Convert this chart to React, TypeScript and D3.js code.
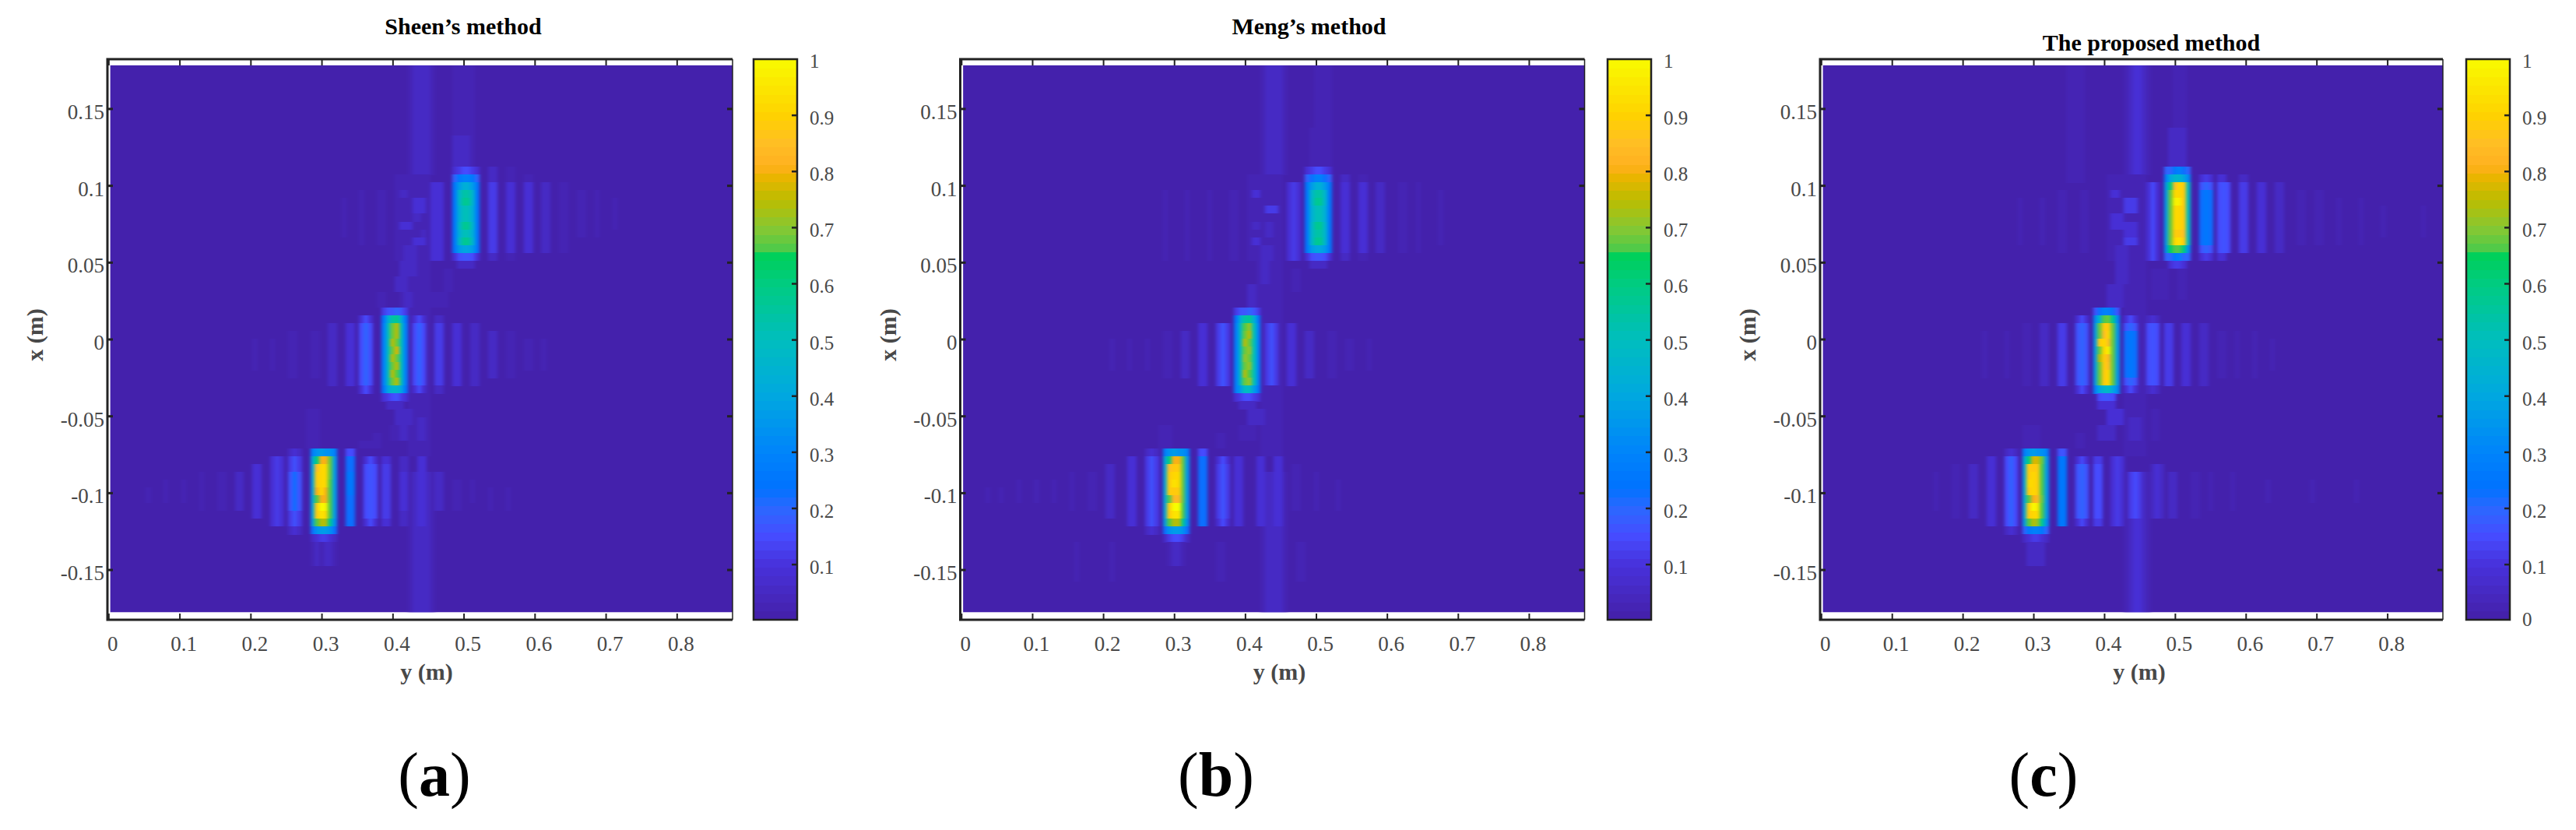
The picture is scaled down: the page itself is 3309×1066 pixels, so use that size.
import React from 'react';
import * as d3 from 'd3';

const yTicks = [0, 0.1, 0.2, 0.3, 0.4, 0.5, 0.6, 0.7, 0.8];
const xTicks = [0.15, 0.1, 0.05, 0, -0.05, -0.1, -0.15];
const barTicks = [0.1, 0.2, 0.3, 0.4, 0.5, 0.6, 0.7, 0.8, 0.9];

// colour bar, it has 64 flat bands and two jumps
const colorStops = [0, 0.1, 0.15, 0.2, 0.235, 0.3, 0.4, 0.5, 0.6, 0.655, 0.66, 0.7, 0.75, 0.795, 0.81, 0.85, 0.9, 0.95, 1];
const colorValues = ['#4420a8', '#4832dc', '#464cff', '#2c68ff', '#0072ff', '#0084fa', '#00a8e0', '#00bebe', '#00cc80', '#00d056', '#4cca4a', '#88c832', '#bcbc00', '#f0b400', '#ffb020', '#ffbe24', '#ffd200', '#fce600', '#f8fa00'];

// [first row, row count, first column, levels], level is base 36 -> 0..1
type Patch = [number, number, number, string];

const sheenPatches: Patch[] = [
  // vertical smear near y = 0.435 and the faint one over the first target
  [0, 14, 67, '122221'], [14, 36, 67, '11111'], [52, 18, 67, '122221'], [0, 13, 77, '11111'], [9, 4, 77, '2222'],
  // target at y = 0.5
  [13, 1, 77, '345543'], [14, 1, 77, '79aa97'], [15, 1, 77, '9dffd9'], [16, 1, 77, '9gjjg9'], [17, 1, 77, '9gkkg9'], [18, 1, 77, '9fiif9'],
  [19, 1, 77, '9fiif9'], [20, 1, 77, '9gkkg9'], [21, 1, 77, '9fiif9'], [22, 1, 77, '9gkkg9'], [23, 1, 77, '9deed9'], [24, 1, 77, '356653'], [25, 1, 78, '2222'],
  [13, 12, 85, '22'], [15, 9, 85, '44'], [13, 12, 89, '11'], [15, 9, 89, '33'], [14, 10, 93, '11'], [15, 9, 93, '33'], [15, 9, 97, '22'], [15, 9, 101, '11'], [16, 6, 105, '11'], [16, 6, 109, '1'], [17, 4, 113, '1'],
  [15, 10, 72, '333'], [14, 11, 64, '1111111'], [17, 2, 68, '333'], [16, 1, 65, '22'], [20, 1, 65, '333'], [22, 1, 68, '333'], [19, 1, 68, '22'], [23, 2, 66, '222'], [21, 1, 70, '2'],
  [16, 7, 60, '11'], [16, 7, 56, '1'], [17, 5, 52, '1'],
  [25, 2, 65, '2222'], [27, 2, 64, '2221'], [29, 2, 65, '1221'], [26, 3, 75, '11'], [29, 2, 60, '11'], [29, 2, 72, '1111'],
  // target at y = 0.4
  [31, 1, 61, '466764'], [32, 1, 61, '9fjkf9'], [33, 1, 61, 'ahoqia'], [34, 1, 61, 'ahoqia'], [35, 1, 61, 'ahqoia'], [36, 1, 61, 'ahoria'], [37, 1, 61, 'ahqoia'],
  [38, 1, 61, 'ahoqia'], [39, 1, 61, 'ahqnia'], [40, 1, 61, 'ahoqia'], [41, 1, 61, '9egge9'], [42, 1, 61, '345643'], [43, 1, 62, '2222'],
  [32, 10, 68, '353'], [33, 8, 68, '575'], [32, 10, 73, '22'], [33, 8, 73, '44'], [33, 8, 77, '33'], [33, 8, 81, '22'], [34, 6, 85, '22'], [34, 6, 89, '11'], [35, 4, 93, '11'], [35, 4, 97, '1'],
  [32, 10, 56, '353'], [33, 8, 56, '575'], [33, 8, 53, '33'], [33, 8, 49, '22'], [34, 6, 45, '11'], [34, 6, 40, '11'], [35, 4, 36, '1'], [35, 4, 32, '1'],
  [44, 2, 64, '2222'], [46, 2, 63, '1122'], [45, 3, 68, '122'], [47, 2, 59, '11'], [48, 1, 56, '1111'],
  // target at y = 0.3
  [44, 5, 44, '111'], [49, 1, 45, 'acdcca'], [50, 1, 45, 'elssod'], [51, 1, 45, 'euwwod'], [52, 1, 45, 'evwwod'], [53, 1, 45, 'evwwnd'], [54, 1, 45, 'eswsnd'], [55, 1, 45, 'enssnd'],
  [56, 1, 45, 'evzynd'], [57, 1, 45, 'evxwnd'], [58, 1, 45, 'dnqqkc'], [59, 1, 45, '8cddc8'], [60, 1, 45, '234432'], [61, 3, 45, '121221'],
  [49, 10, 53, '55'], [50, 9, 53, '88'], [52, 3, 53, '99'], [50, 9, 57, '353'], [51, 7, 57, '565'], [50, 9, 61, '33'], [51, 7, 61, '44'], [50, 9, 65, '22'], [52, 5, 65, '33'], [50, 9, 69, '33'], [52, 5, 73, '22'], [53, 4, 77, '11'], [53, 3, 81, '1'], [54, 3, 85, '1'], [54, 3, 89, '1'],
  [49, 11, 40, '232'], [50, 9, 40, '464'], [52, 5, 40, '686'], [50, 9, 36, '343'], [51, 7, 32, '33'], [52, 5, 28, '22'], [52, 5, 24, '11'], [52, 5, 20, '1'], [53, 3, 16, '1'], [53, 3, 12, '1'], [54, 2, 8, '1'],
];

const mengPatches: Patch[] = [
  [0, 14, 67, '122221'], [14, 36, 67, '11111'], [52, 18, 67, '122221'], [0, 13, 79, '1111'], [8, 5, 78, '1111'],
  [13, 1, 77, '345543'], [14, 1, 77, '78aa87'], [15, 1, 77, '9dffd9'], [16, 1, 77, '9gjjg9'], [17, 1, 77, '9gkkg9'], [18, 1, 77, '9fiif9'],
  [19, 1, 77, '9fiif9'], [20, 1, 77, '9gkkg9'], [21, 1, 77, '9gjjg9'], [22, 1, 77, '9gkkg9'], [23, 1, 77, '9deed9'], [24, 1, 77, '356653'], [25, 1, 78, '2222'],
  [14, 11, 85, '22'], [15, 9, 85, '33'], [14, 11, 89, '11'], [15, 9, 89, '33'], [15, 9, 93, '22'], [15, 9, 98, '11'], [15, 9, 102, '1'], [16, 7, 107, '1'],
  [15, 10, 73, '343'], [14, 11, 64, '1111111'], [16, 1, 65, '33'], [18, 1, 68, '444'], [20, 1, 65, '22'], [22, 1, 65, '33'], [20, 2, 68, '22'], [23, 2, 67, '222'], [16, 9, 60, '11'], [16, 9, 55, '1'], [16, 9, 50, '1'], [16, 9, 45, '1'],
  [25, 3, 66, '1221'], [28, 3, 64, '2211'], [26, 3, 74, '11'],
  [31, 1, 61, '466764'], [32, 1, 61, '9fjkf9'], [33, 1, 61, 'ahnpia'], [34, 1, 61, 'ahoqia'], [35, 1, 61, 'ahqoia'], [36, 1, 61, 'ahopia'], [37, 1, 61, 'ahpoia'],
  [38, 1, 61, 'ahopia'], [39, 1, 61, 'ahqnia'], [40, 1, 61, 'ahopia'], [41, 1, 61, 'adhhd9'], [42, 1, 61, '345543'], [43, 1, 62, '2222'],
  [33, 8, 68, '464'], [33, 8, 73, '33'], [34, 6, 77, '22'], [34, 6, 82, '11'], [35, 4, 86, '11'], [35, 4, 91, '1'],
  [33, 8, 57, '464'], [33, 8, 53, '33'], [34, 6, 49, '22'], [34, 6, 45, '11'], [35, 4, 41, '1'], [35, 4, 37, '1'], [35, 4, 33, '1'],
  [44, 2, 64, '2222'], [46, 2, 62, '1111'], [45, 3, 68, '111'], [47, 2, 57, '11'],
  [46, 3, 44, '111'], [49, 1, 45, 'acdcca'], [50, 1, 45, 'elssod'], [51, 1, 45, 'euvvod'], [52, 1, 45, 'evwwod'], [53, 1, 45, 'evxwod'], [54, 1, 45, 'evvvod'], [55, 1, 45, 'enttod'],
  [56, 1, 45, 'evzznd'], [57, 1, 45, 'evxxnd'], [58, 1, 45, 'dnqqkc'], [59, 1, 45, '8cddc8'], [60, 1, 45, '245542'], [61, 3, 46, '1221'],
  [49, 10, 53, '55'], [50, 9, 53, '88'], [50, 9, 57, '353'], [51, 7, 57, '464'], [50, 9, 61, '33'], [50, 9, 66, '33'], [50, 9, 70, '33'], [51, 6, 74, '11'], [52, 5, 79, '1'], [53, 4, 84, '1'],
  [49, 11, 41, '232'], [50, 9, 41, '464'], [50, 9, 37, '33'], [51, 7, 32, '22'], [52, 5, 28, '11'], [52, 5, 24, '1'], [53, 3, 20, '1'], [53, 3, 16, '1'], [53, 3, 12, '1'], [54, 2, 8, '1'], [54, 2, 5, '1'],
  [61, 5, 25, '1'], [61, 5, 33, '1'], [61, 5, 57, '11'], [61, 5, 75, '11'],
];

const proposedPatches: Patch[] = [
  [0, 14, 68, '123321'], [14, 36, 68, '11111'], [52, 18, 68, '123321'], [0, 15, 55, '1111'], [0, 13, 79, '111'], [8, 5, 78, '2222'],
  [13, 1, 77, '779a87'], [14, 1, 77, 'aeggeb'], [15, 1, 77, 'dluwvh'], [16, 1, 77, 'dowwvh'], [17, 1, 77, 'doyyvh'], [18, 1, 77, 'dowwvh'],
  [19, 1, 77, 'dowwvh'], [20, 1, 77, 'dowwvh'], [21, 1, 77, 'dovvuh'], [22, 1, 77, 'dowxvh'], [23, 1, 77, 'cmnnlc'], [24, 1, 77, '779a77'], [25, 1, 78, '3443'],
  [14, 11, 85, '343'], [15, 9, 85, '676'], [16, 7, 85, '898'], [14, 11, 89, '33'], [15, 9, 89, '565'], [14, 10, 94, '22'], [15, 9, 94, '44'], [15, 9, 98, '33'], [15, 9, 102, '22'], [16, 7, 107, '11'], [16, 7, 111, '11'], [17, 6, 116, '1'], [17, 6, 121, '1'], [18, 4, 126, '1'], [18, 4, 135, '1'],
  [15, 10, 73, '353'], [14, 11, 64, '1111111'], [17, 2, 68, '444'], [20, 2, 68, '333'], [22, 1, 68, '444'], [16, 1, 65, '33'], [19, 2, 65, '333'], [23, 2, 66, '222'], [16, 8, 53, '11'], [16, 8, 58, '11'], [17, 6, 49, '1'], [17, 6, 44, '1'],
  [25, 3, 66, '2221'], [28, 3, 64, '2222'], [26, 4, 74, '1111'], [26, 4, 80, '11'],
  [31, 1, 61, '68aa86'], [32, 1, 61, 'bgnokb'], [33, 1, 61, 'dovvod'], [34, 1, 61, 'douwod'], [35, 1, 61, 'dvwuod'], [36, 1, 61, 'dowyod'], [37, 1, 61, 'dqvtod'],
  [38, 1, 61, 'dovuod'], [39, 1, 61, 'dovwod'], [40, 1, 61, 'dovwod'], [41, 1, 61, 'aegheb'], [42, 1, 62, '5665'], [43, 1, 62, '3333'],
  [32, 10, 68, '353'], [33, 8, 68, '676'], [34, 6, 68, '898'], [32, 10, 73, '232'], [33, 8, 73, '565'], [33, 8, 77, '44'], [33, 8, 81, '33'], [33, 8, 85, '22'], [34, 6, 89, '11'], [34, 6, 93, '1'], [34, 6, 97, '1'], [35, 4, 101, '1'],
  [32, 10, 57, '353'], [33, 8, 57, '676'], [33, 8, 53, '44'], [33, 8, 49, '22'], [33, 8, 45, '11'], [34, 6, 41, '1'], [34, 6, 36, '1'],
  [44, 2, 64, '3333'], [46, 2, 62, '2222'], [45, 3, 69, '222'], [47, 2, 57, '11'], [44, 4, 74, '11'],
  [46, 3, 45, '1111'], [49, 1, 45, 'acdcca'], [50, 1, 45, 'elrrod'], [51, 1, 45, 'evvvnd'], [52, 1, 45, 'evwvnd'], [53, 1, 45, 'ewwvnd'], [54, 1, 45, 'evwvnd'], [55, 1, 45, 'enstod'],
  [56, 1, 45, 'evzxnd'], [57, 1, 45, 'evwwnd'], [58, 1, 45, 'dnqpkc'], [59, 1, 45, '79aa97'], [60, 1, 45, '234432'], [61, 3, 46, '2222'],
  [49, 10, 53, '66'], [50, 9, 53, '99'], [50, 9, 57, '353'], [51, 7, 57, '676'], [50, 9, 61, '44'], [51, 7, 61, '55'], [50, 9, 65, '343'], [52, 6, 69, '454'], [51, 7, 74, '232'], [52, 6, 78, '22'], [52, 6, 83, '11'], [52, 5, 87, '1'], [52, 5, 92, '1'], [53, 3, 100, '1'], [53, 3, 110, '1'], [53, 3, 120, '1'],
  [49, 11, 41, '232'], [50, 9, 41, '575'], [50, 9, 37, '33'], [51, 7, 33, '22'], [51, 7, 29, '11'], [52, 5, 25, '1'],
];

const barDomain = [0.0017, 1];
const rowCount = 70;
const colCount = 140;

const panels = [
  { id: 'a', title: 'Sheen’s method', patches: sheenPatches, left: 138, right: 941, titleX: 595, titleY: 44, cap: 'a', capX: 558, barLeft: 968, zero: false },
  { id: 'b', title: 'Meng’s method', patches: mengPatches, left: 1233.5, right: 2035.5, titleX: 1681.5, titleY: 44, cap: 'b', capX: 1562, barLeft: 2065, zero: false },
  { id: 'c', title: 'The proposed method', patches: proposedPatches, left: 2338, right: 3138, titleX: 2763.5, titleY: 65, cap: 'c', capX: 2625, barLeft: 3168, zero: true },
];

const serif = '"Liberation Serif", serif';
const ink = '#222222';
const labelInk = '#484848';
const top = 76;
const bottom = 796;

const color = d3.scaleLinear<string>().domain(colorStops).range(colorValues).interpolate(d3.interpolateRgb);
const band = (v: number) => color((Math.floor(v * 64) + 0.5) / 64);

function buildGrid(patches: Patch[]) {
  const grid: number[][] = d3.range(rowCount).map(() => new Array(colCount).fill(0));
  patches.forEach(([row, n, col, levels]) => {
    for (let r = row; r < row + n; r++) {
      levels.split('').forEach((ch, i) => {
        const v = parseInt(ch, 36) / 35;
        if (v > grid[r][col + i]) grid[r][col + i] = v;
      });
    }
  });
  return grid;
}

function Panel({ panel }: { panel: typeof panels[number] }) {
  const { id, title, patches, left, right, titleX, titleY, cap, capX, barLeft, zero } = panel;
  const x = d3.scaleLinear().domain([-0.002, 0.878]).range([left, right]);
  const y = d3.scaleLinear().domain([-0.1824, 0.1824]).range([bottom, top]);
  const colBand = d3.scaleBand<number>().domain(d3.range(colCount)).range([x(0.002), right]);
  const rowBand = d3.scaleBand<number>().domain(d3.range(rowCount)).range([y(0.1785), y(-0.1776)]);
  const grid = buildGrid(patches);
  const barY = d3.scaleLinear().domain(barDomain).range([bottom, top]);
  const barW = 56;
  const imgX = colBand(0) as number;
  const imgY = rowBand(0) as number;
  const imgW = right - imgX;
  const imgH = y(-0.1776) - imgY;

  return (
    <g>
      <defs>
        <clipPath id={`clip-${id}`}><rect x={imgX} y={imgY} width={imgW} height={imgH} /></clipPath>
        <filter id={`soft-${id}`} x={imgX - 20} y={imgY - 5} width={imgW + 40} height={imgH + 10} filterUnits="userSpaceOnUse" colorInterpolationFilters="sRGB">
          <feGaussianBlur stdDeviation="2.2 0" />
        </filter>
      </defs>
      <text x={titleX} y={titleY} textAnchor="middle" fontFamily={serif} fontWeight="bold" fontSize={30} fill="#000">{title}</text>

      <g clipPath={`url(#clip-${id})`}>
        <g filter={`url(#soft-${id})`}>
          <rect x={imgX - 20} y={imgY} width={imgW + 40} height={imgH} fill={band(0)} />
          {grid.map((cells, r) => cells.map((v, c) => v > 0 ? (
            <rect key={`${r}-${c}`} x={colBand(c)} y={rowBand(r)} width={colBand.bandwidth() + 0.5} height={rowBand.bandwidth() + 0.4} fill={band(v)} shapeRendering="crispEdges" />
          ) : null))}
        </g>
      </g>

      {yTicks.map(t => (
        <g key={t}>
          <line x1={x(t)} x2={x(t)} y1={bottom} y2={bottom - 8} stroke={ink} strokeWidth={2} />
          <line x1={x(t)} x2={x(t)} y1={top} y2={top + 8} stroke={ink} strokeWidth={2} />
          <text x={x(t) + 5} y={836} textAnchor="middle" fontFamily={serif} fontSize={27} fill={labelInk}>{t}</text>
        </g>
      ))}
      {xTicks.map(t => (
        <g key={t}>
          <line x1={left} x2={left + 7} y1={y(t)} y2={y(t)} stroke={ink} strokeWidth={3} />
          <line x1={right} x2={right - 7} y1={y(t)} y2={y(t)} stroke={ink} strokeWidth={3} />
          <text x={left - 4} y={y(t) + 13} textAnchor="end" fontFamily={serif} fontSize={27} fill={labelInk}>{t}</text>
        </g>
      ))}
      <path d={`M${right},${top}H${left}V${bottom}H${right}`} fill="none" stroke={ink} strokeWidth={3} />
      <line x1={right} x2={right} y1={top} y2={bottom} stroke={ink} strokeWidth={1.5} />

      <text x={left + 410} y={873} textAnchor="middle" fontFamily={serif} fontWeight="bold" fontSize={30} fill={labelInk}>y (m)</text>
      <text transform={`translate(${left - 83},${430}) rotate(-90)`} textAnchor="middle" fontFamily={serif} fontWeight="bold" fontSize={30} fill={labelInk}>x (m)</text>

      {d3.range(64).map(i => (
        <rect key={i} x={barLeft} y={top + (bottom - top) * (63 - i) / 64} width={barW} height={(bottom - top) / 64 + 0.5} fill={band((i + 0.5) / 64)} shapeRendering="crispEdges" />
      ))}
      {barTicks.map(t => (
        <line key={t} x1={barLeft + barW} x2={barLeft + barW - 7} y1={barY(t)} y2={barY(t)} stroke={ink} strokeWidth={2.5} />
      ))}
      <rect x={barLeft} y={top} width={barW} height={bottom - top} fill="none" stroke={ink} strokeWidth={2.5} />
      {barTicks.concat([1]).map(t => (
        <text key={t} x={barLeft + barW + 16} y={barY(t) + (t === 1 ? 11 : 12)} fontFamily={serif} fontSize={25} fill={labelInk}>{t}</text>
      ))}
      {zero ? <text x={barLeft + barW + 16} y={804} fontFamily={serif} fontSize={25} fill={labelInk}>0</text> : null}

      <text x={capX} y={1022} textAnchor="middle" fontFamily={serif} fontSize={80} fill="#000">(<tspan fontWeight="bold">{cap}</tspan>)</text>
    </g>
  );
}

export default function App() {
  return (
    <svg width={3309} height={1066} style={{ position: 'absolute', left: 0, top: 0, background: '#fff' }}>
      {panels.map(p => <Panel key={p.id} panel={p} />)}
    </svg>
  );
}
